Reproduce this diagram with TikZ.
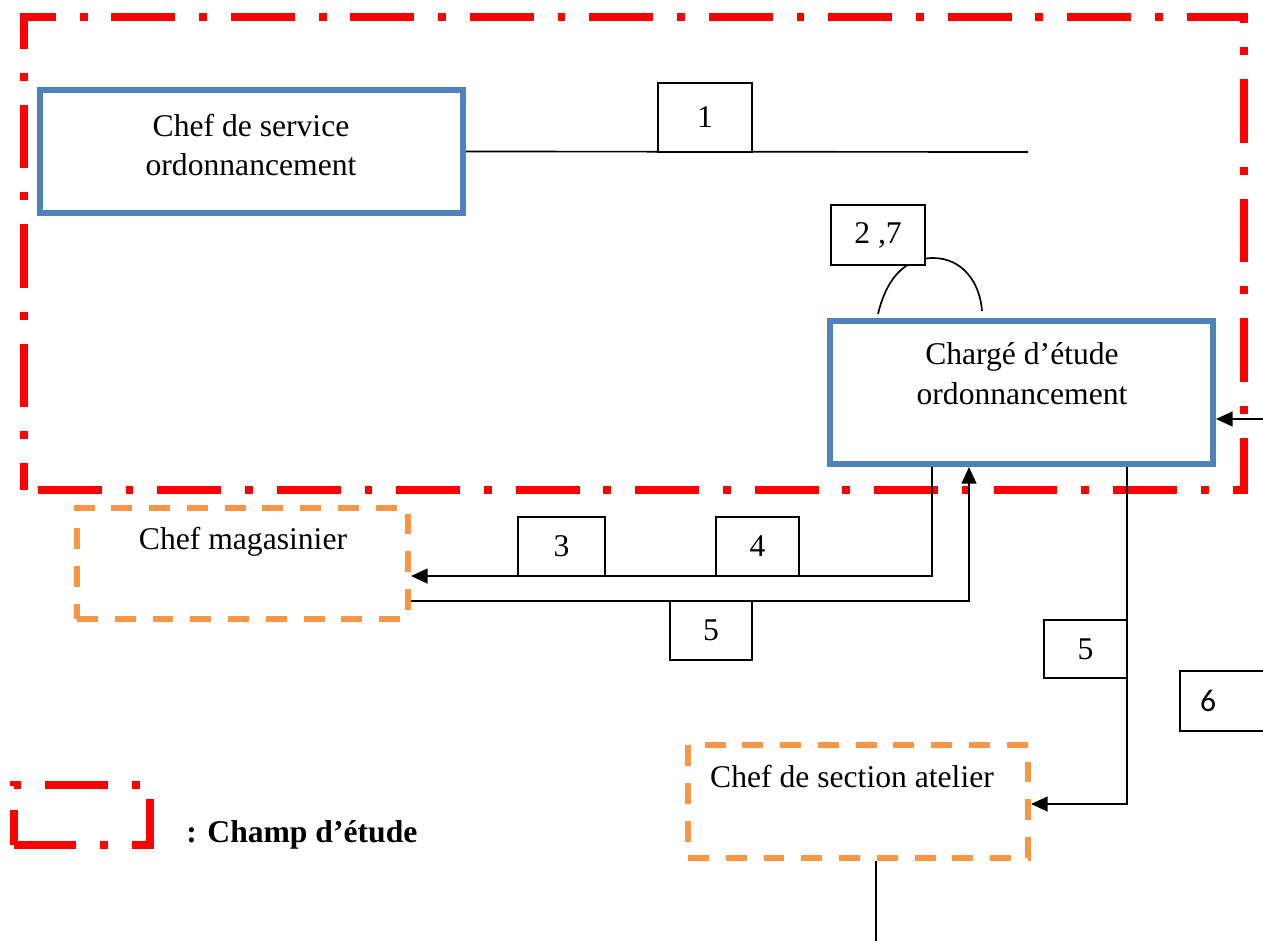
\documentclass[tikz,border=0pt]{standalone}
\usepackage{fontspec}
\setmainfont{Liberation Serif}
\newfontfamily\calib{Carlito}
\usetikzlibrary{arrows.meta,fit}
\definecolor{champred}{HTML}{FF0000}
\definecolor{posteblue}{HTML}{4F81BD}
\definecolor{externorange}{HTML}{F79646}
\begin{document}
\begin{tikzpicture}[x=0.02cm,y=-0.02cm,
  champ/.style={draw=champred, line width=4.5pt,
    dash pattern=on 36.3pt off 13.6pt on 4.5pt off 13.6pt},
  poste/.style={draw=posteblue, line width=3.4pt, inner sep=0pt},
  externe/.style={draw=externorange, line width=3.4pt,
    dash pattern=on 11.9pt off 9.6pt, inner sep=0pt},
  numfont/.style={font=\fontsize{18}{22}\selectfont, inner sep=0pt},
  numbox/.style={draw, line width=1pt, fill=white, inner sep=0pt,
    label={[numfont]center:#1}},
  lien/.style={line width=0.95pt},
  fleche/.style={lien, -{Triangle[length=9.5pt,width=8.5pt]}},
  txt/.style={font=\fontsize{18}{22.7}\selectfont, align=center, inner sep=0pt}]
\useasboundingbox (0,0) rectangle (1263,940);

% field of study
\draw[champ, dash phase=21pt] (24,490) -- (24,17) -- (1244,17) -- (1244,490) -- cycle;

% posts
\node[poste, fit={(40,90) (463,213)}] (serv) {};
\node[txt] (servtxt) at (251,145) {Chef de service\\ordonnancement};
\node[poste, fit={(830,321) (1213,464)}] (chg) {};
\node[txt] (chgtxt) at (1022,374) {Chargé d’étude\\ordonnancement};
\node[externe, fit={(77,508) (408,619)}] (mag) {};
\node[txt] (magtxt) at (243,542) {Chef magasinier};
\node[externe, fit={(688,745) (1028,858)}] (sec) {};
\node[txt] (sectxt) at (852,777) {Chef de section atelier};

% helper coordinates for the connectors
\coordinate (fin1) at (1028,152);
\coordinate (rin) at (1263,419);
\coordinate (xA) at (932,0);
\coordinate (xB) at (969,0);
\coordinate (xC) at (1127,0);
\coordinate (yA) at (0,576);
\coordinate (yB) at (0,601);
\coordinate (yC) at (0,804);
\coordinate (bot) at (876,945);
\coordinate (arcA) at (878,314);
\coordinate (arcB) at (982,311);

% connectors
\draw[lien] (serv.east) -- (fin1);
\draw[fleche] (rin) -- (rin -| chg.east);
\draw[fleche] (chg.south -| xA) |- (mag.east |- yA);
\draw[fleche] (mag.east |- yB) -| (chg.south -| xB);
\draw[fleche] (chg.south -| xC) |- (sec.east |- yC);
\draw[lien] (sec.south -| bot) -- (bot);
\draw[lien] (arcA) .. controls (888,272) and (910,258) .. (933,258)
  .. controls (962,258) and (980,282) .. (arcB);

% flow numbers
\node[numbox=1, fit={(658,83) (752,152)}] (n1) {};
\node[numbox={2 ,7}, fit={(831,205) (925,265)}] (n27) {};
\node[numbox=3, fit={(518,517) (605,576)}] (n3) {};
\node[numbox=4, fit={(716,517) (799,576)}] (n4) {};
\node[numbox=5, fit={(670,601) (752,660)}] (n5a) {};
\node[numbox=5, fit={(1044,620) (1127,678)}] (n5b) {};
\node[draw, line width=1pt, fill=white, inner sep=0pt, fit={(1180,671) (1290,731)}] (n6) {};
\node[font=\calib\fontsize{18}{22}\selectfont, inner sep=0pt] (n6txt) at (1208,701) {6};

% legend
\draw[champ, dash phase=16.4pt] (14,845) -- (14,785) -- (150,785) -- (150,845) -- cycle;
\node[font=\fontsize{18}{22}\selectfont\bfseries, anchor=west, inner sep=0pt]
  (legtxt) at (186,835) {: Champ d’étude};
\end{tikzpicture}
\end{document}
